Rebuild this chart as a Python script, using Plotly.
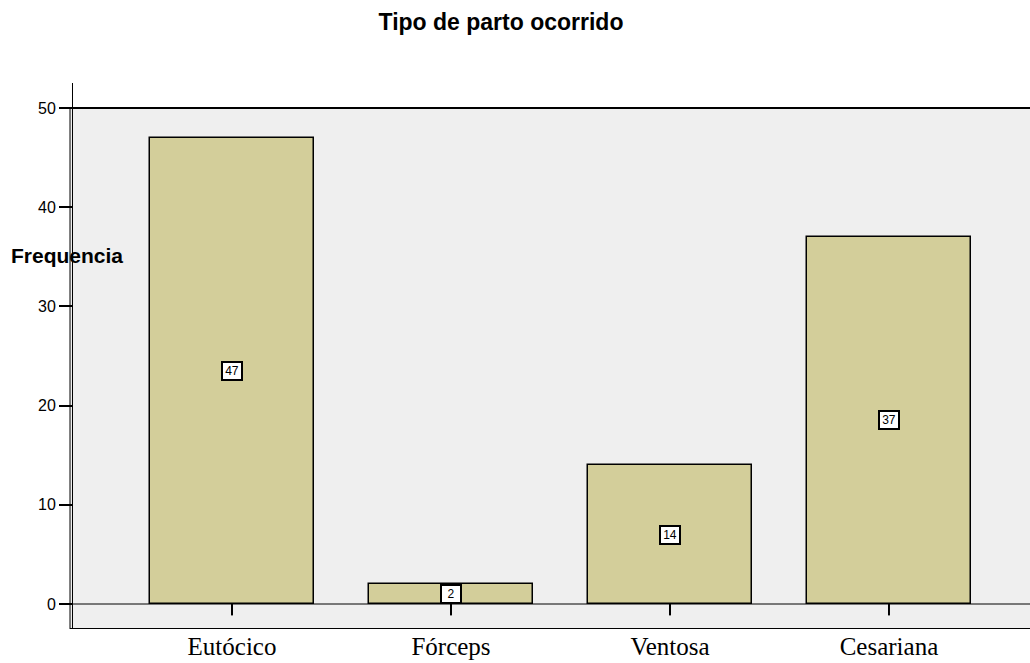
import plotly.graph_objects as go

categories = ["Eutócico", "Fórceps", "Ventosa", "Cesariana"]
frequencias = [47, 2, 14, 37]
y_ticks = [0, 10, 20, 30, 40, 50]

bar_color = "#D3CE9A"
panel_color = "#EFEFEF"
sans = "Arial, Liberation Sans, sans-serif"
serif = "Times New Roman, Liberation Serif, serif"

x_pos = list(range(len(categories)))

fig = go.Figure()
fig.add_trace(go.Bar(
    x=x_pos, y=frequencias, width=0.753,
    marker=dict(color=bar_color, line=dict(color="black", width=1.5)),
    hoverinfo="skip",
))

shapes = [
    # shaded panel with frame
    dict(type="rect", xref="paper", yref="y", x0=-3 / 957, x1=1.002, y0=-2.52, y1=50,
         fillcolor=panel_color, line=dict(color="black", width=0), layer="below"),
    dict(type="line", xref="paper", yref="y", x0=-3 / 957, x1=1.0, y0=50, y1=50,
         line=dict(color="black", width=2), layer="below"),
    dict(type="line", xref="paper", yref="y", x0=-3 / 957, x1=1.0, y0=-2.52, y1=-2.52,
         line=dict(color="black", width=2), layer="below"),
    dict(type="line", xref="paper", yref="y", x0=-3 / 957, x1=-3 / 957, y0=-2.52, y1=50,
         line=dict(color="black", width=1), layer="below"),
    # baseline at zero
    dict(type="line", xref="paper", yref="y", x0=0, x1=1.0, y0=0, y1=0,
         line=dict(color="black", width=1), layer="below"),
]
# category ticks hanging below the baseline
for xp in x_pos:
    shapes.append(dict(type="line", xref="x", yref="y", x0=xp, x1=xp, y0=0, y1=-1.15,
                       line=dict(color="black", width=2)))

annotations = []
for xp, v in zip(x_pos, frequencias):
    annotations.append(dict(
        x=xp, y=v / 2, xref="x", yref="y", text=str(v), showarrow=False,
        font=dict(family=sans, size=12, color="black"),
        width=16, height=14, align="center", valign="middle",
        bgcolor="white", bordercolor="black", borderwidth=2, borderpad=1,
    ))
annotations.append(dict(
    x=(9 - 73) / 957, y=(629 - 255) / 546, xref="paper", yref="paper",
    text="<b>Frequencia</b>", showarrow=False, xanchor="left", yanchor="middle",
    font=dict(family=sans, size=21, color="black"),
))

fig.update_layout(
    width=1030, height=663,
    margin=dict(l=73, r=0, t=83, b=34),
    plot_bgcolor="white", paper_bgcolor="white",
    showlegend=False, bargap=0,
    title=dict(text="<b>Tipo de parto ocorrido</b>", x=501 / 1030, xanchor="center",
               y=1 - 22 / 663, yanchor="middle",
               font=dict(family=sans, size=23, color="black")),
    xaxis=dict(range=[-0.726, 3.644], tickvals=x_pos, ticktext=categories,
               showgrid=False, zeroline=False, showline=False, ticks="",
               ticklabelstandoff=0, automargin=False,
               tickfont=dict(family=serif, size=25, color="black")),
    yaxis=dict(range=[-2.52, 52.52], tickvals=y_ticks, showgrid=False, zeroline=False,
               showline=True, linecolor="black", linewidth=1, automargin=False,
               ticks="outside", ticklen=13, tickwidth=2, tickcolor="black",
               tickfont=dict(family=sans, size=16, color="black")),
    shapes=shapes, annotations=annotations,
)

fig.write_html("out.html")
